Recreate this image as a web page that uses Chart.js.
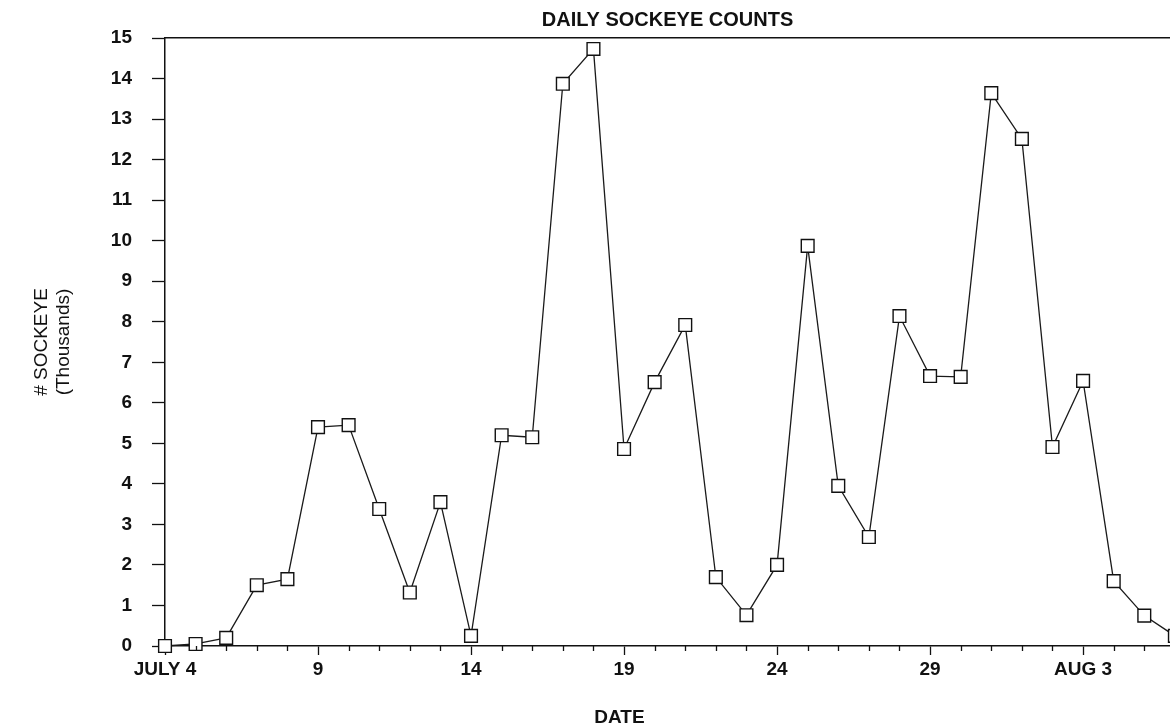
<!DOCTYPE html>
<html>
<head>
<meta charset="utf-8">
<script src="https://cdn.jsdelivr.net/npm/chart.js@4"></script>
<style>
  html, body { margin: 0; padding: 0; background: #ffffff; }
  canvas { display: block; }
</style>
</head>
<body>
<canvas id="c" width="1170" height="728"></canvas>
<script>
// Day index (0 = July 4 ... 33 = Aug 6)
const days = [0,1,2,3,4,5,6,7,8,9,10,11,12,13,14,15,16,17,18,19,20,21,22,23,24,25,26,27,28,29,30,31,32,33];
// Sockeye counts in thousands
const counts = [0.0,0.05,0.2,1.5,1.65,5.4,5.45,3.38,1.32,3.55,0.25,5.2,5.15,13.87,14.73,4.86,6.51,7.92,1.7,0.76,2.0,9.87,3.95,2.69,8.14,6.66,6.64,13.64,12.51,4.91,6.54,1.6,0.75,0.25];
// Tick labels every 5 days
const tickLabels = ['JULY 4','9','14','19','24','29','AUG 3'];
const titleText = 'DAILY SOCKEYE COUNTS';
const yTitle = ['# SOCKEYE','(Thousands)'];
const xTitle = 'DATE';

const FONT = "'Liberation Sans', Arial, sans-serif";

const extras = {
  id: 'extras',
  afterDraw(chart) {
    const {ctx, chartArea} = chart;
    const xs = chart.scales.x;
    ctx.save();
    ctx.strokeStyle = '#111';
    ctx.lineWidth = 1.3;
    ctx.beginPath();
    for (const d of days) {
      if (d % 5 === 0) continue;
      const px = Math.round(xs.getPixelForValue(d)) + 0.5;
      if (px > chartArea.right) continue;
      ctx.moveTo(px, chartArea.bottom);
      ctx.lineTo(px, chartArea.bottom + 5);
    }
    ctx.stroke();
    ctx.fillStyle = '#111';
    ctx.font = "bold 19px " + FONT;
    ctx.textAlign = 'center';
    ctx.textBaseline = 'middle';
    ctx.fillText(xTitle, xs.getPixelForValue(14.85), 718);
    ctx.restore();
  }
};

new Chart(document.getElementById('c'), {
  type: 'line',
  data: {
    datasets: [{
      data: days.map((d, i) => ({x: d, y: counts[i]})),
      borderColor: '#1a1a1a',
      borderWidth: 1.3,
      tension: 0,
      pointStyle: 'rect',
      pointRadius: 9,
      pointBorderWidth: 1.4,
      pointBorderColor: '#111',
      pointBackgroundColor: '#ffffff',
      clip: false
    }]
  },
  options: {
    responsive: false,
    animation: false,
    devicePixelRatio: 1,
    layout: { padding: 0, autoPadding: false },
    plugins: { legend: { display: false }, tooltip: { enabled: false }, title: { display: false } },
    scales: {
      x: {
        type: 'linear',
        position: 'bottom',
        min: 0,
        max: 32.84,
        afterFit(s) { s.height = 82; },
        border: { display: true, color: '#111', width: 1.5 },
        grid: { drawOnChartArea: false, drawTicks: true, tickLength: 9, color: '#111', tickWidth: 1.3 },
        ticks: {
          stepSize: 5,
          includeBounds: false,
          autoSkip: false,
          maxRotation: 0,
          padding: 3,
          color: '#111',
          font: { family: FONT, size: 19, weight: 'bold' },
          callback: (v) => tickLabels[Math.round(v / 5)] ?? ''
        }
      },
      x2: {
        type: 'linear',
        position: 'top',
        min: 0,
        max: 32.84,
        afterFit(s) { s.height = 38; },
        border: { display: true, color: '#111', width: 1.5 },
        grid: { display: false, drawTicks: false },
        ticks: { display: false },
        title: {
          display: true,
          text: titleText,
          color: '#111',
          font: { family: FONT, size: 20, weight: 'bold', lineHeight: 1.2 },
          padding: { top: 8, bottom: 0 }
        }
      },
      y: {
        type: 'linear',
        position: 'left',
        min: 0,
        max: 15,
        afterFit(s) { s.width = 165; },
        border: { display: true, color: '#111', width: 1.5 },
        grid: { drawOnChartArea: false, drawTicks: true, tickLength: 13, color: '#111', tickWidth: 1.3 },
        ticks: {
          stepSize: 1,
          padding: 20,
          color: '#111',
          font: { family: FONT, size: 19, weight: 'bold' }
        },
        title: {
          display: true,
          text: yTitle,
          color: '#111',
          font: { family: FONT, size: 19, weight: 'normal', lineHeight: 22 / 19 },
          padding: { top: 31, bottom: 0 }
        }
      }
    }
  },
  plugins: [extras]
});
</script>
</body>
</html>
